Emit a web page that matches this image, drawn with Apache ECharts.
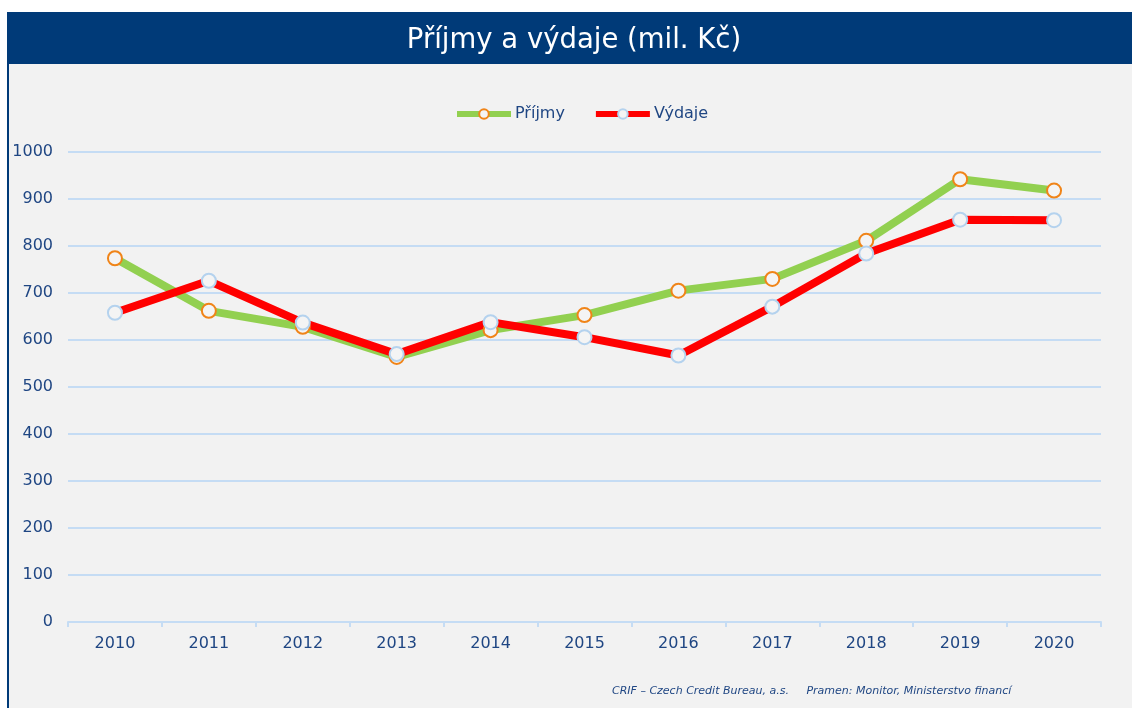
<!DOCTYPE html>
<html>
<head>
<meta charset="utf-8">
<script src="https://cdn.jsdelivr.net/npm/echarts@6/dist/echarts.min.js"></script>
<style>
html, body { margin: 0; padding: 0; background: #fff; }
#chart { width: 1132px; height: 708px; }
</style>
</head>
<body>
<div id="chart"></div>
<script>
// data
var years = ['2010', '2011', '2012', '2013', '2014', '2015', '2016', '2017', '2018', '2019', '2020'];
var prijmy = [774, 662, 628, 564, 621, 653, 705, 730, 811, 942, 918];
var vydaje = [658, 726, 637, 570, 638, 606, 567, 671, 784, 856, 855];

var navy = '#003a78';
var txt = '#1f4683';
var font = 'DejaVu Sans';

var myChart = echarts.init(document.getElementById('chart'));
var option = {
	backgroundColor: '#fff',
	textStyle: { fontFamily: font },
	graphic: [
		{ type: 'rect', z: -10, shape: { x: 7, y: 12, width: 1125, height: 696 }, style: { fill: '#f2f2f2' } },
		{ type: 'rect', z: -9, shape: { x: 7, y: 12, width: 1125, height: 52 }, style: { fill: navy } },
		{ type: 'rect', z: -9, shape: { x: 7, y: 12, width: 2, height: 696 }, style: { fill: navy } },
		{ type: 'text', x: 574, y: 41, style: { text: 'Příjmy a výdaje (mil. Kč)', fill: '#fff', font: '27.5px ' + font, align: 'center', verticalAlign: 'middle' } },
		{ type: 'text', x: 612, y: 691, style: { text: 'CRIF \u2013 Czech Credit Bureau, a.s.     Pramen: Monitor, Ministerstvo financí', fill: txt, font: 'italic 11px ' + font, verticalAlign: 'middle' } }
	],
	legend: {
		top: 101,
		left: 449,
		itemWidth: 54,
		itemHeight: 12,
		itemGap: 28,
		textStyle: { color: txt, fontSize: 16, fontFamily: font, padding: [0, 0, 0, -1] },
		lineStyle: { width: 6 },
		data: ['Příjmy', 'Výdaje']
	},
	grid: { left: 68, right: 31, top: 152, bottom: 86 },
	xAxis: {
		type: 'category',
		data: years,
		boundaryGap: true,
		axisLine: { lineStyle: { color: '#c5dcf4', width: 2 } },
		axisTick: { show: true, length: 5, lineStyle: { color: '#c5dcf4', width: 2 } },
		axisLabel: { color: txt, fontSize: 16, margin: 14 }
	},
	yAxis: {
		type: 'value',
		min: 0,
		max: 1000,
		interval: 100,
		axisLine: { show: false },
		axisTick: { show: false },
		axisLabel: { color: txt, fontSize: 16, margin: 15, formatter: function(v) { return String(v); } },
		splitLine: { lineStyle: { color: '#c5dcf4', width: 2 } }
	},
	series: [
		{
			name: 'Příjmy',
			type: 'line',
			data: prijmy,
			symbol: 'circle',
			symbolSize: 14,
			lineStyle: { color: '#92d050', width: 8 },
			itemStyle: { color: '#f4f4f4', borderColor: '#f08418', borderWidth: 2 },
			emphasis: { disabled: true }
		},
		{
			name: 'Výdaje',
			type: 'line',
			data: vydaje,
			symbol: 'circle',
			symbolSize: 14,
			lineStyle: { color: '#ff0000', width: 8 },
			itemStyle: { color: '#f4f4f4', borderColor: '#b4d2ee', borderWidth: 2 },
			emphasis: { disabled: true }
		}
	]
};
myChart.setOption(option);
</script>
</body>
</html>
